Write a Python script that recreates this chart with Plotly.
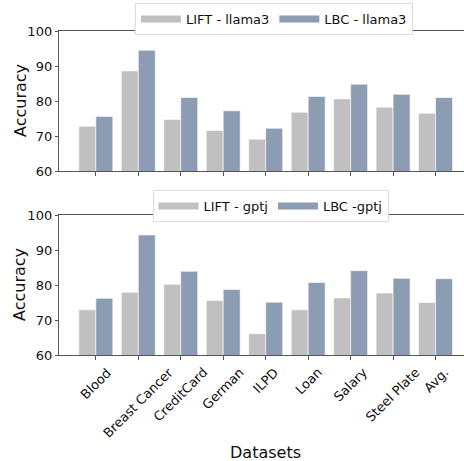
import plotly.graph_objects as go

datasets = ["Blood", "Breast Cancer", "CreditCard", "German", "ILPD", "Loan", "Salary", "Steel Plate", "Avg."]
lift_llama3 = [72.8, 88.6, 74.7, 71.6, 69.1, 76.8, 80.6, 78.2, 76.5]
lbc_llama3 = [75.6, 94.5, 81.0, 77.2, 72.2, 81.3, 84.8, 81.9, 81.0]
lift_gptj = [72.9, 77.9, 80.2, 75.6, 66.1, 72.9, 76.3, 77.7, 75.0]
lbc_gptj = [76.2, 94.3, 83.9, 78.7, 75.1, 80.7, 84.1, 81.9, 81.8]

W, H = 464, 461
GRAY = "#c0c0c0"
BLUE = "#8c9cb2"
SPINE = "#555555"
FONT = "DejaVu Sans"

fig = go.Figure()

def add_pair(lift, lbc, name_lift, name_lbc, xa, ya, leg):
    fig.add_trace(go.Bar(x=datasets, y=lift, marker=dict(color=GRAY, line=dict(color="white", width=0.6)),
                         xaxis=xa, yaxis=ya, showlegend=False, offsetgroup="a"))
    fig.add_trace(go.Bar(x=datasets, y=lbc, marker=dict(color=BLUE, line=dict(color="white", width=0.6)),
                         xaxis=xa, yaxis=ya, showlegend=False, offsetgroup="b"))
    # legend swatches (wide rectangles like matplotlib)
    fig.add_trace(go.Scatter(x=[None], y=[None], mode="lines", line=dict(color=GRAY, width=7),
                             name=name_lift, xaxis=xa, yaxis=ya, legend=leg))
    fig.add_trace(go.Scatter(x=[None], y=[None], mode="lines", line=dict(color=BLUE, width=7),
                             name=name_lbc, xaxis=xa, yaxis=ya, legend=leg))

add_pair(lift_llama3, lbc_llama3, "LIFT - llama3", "LBC - llama3", "x", "y", "legend")
add_pair(lift_gptj, lbc_gptj, "LIFT - gptj", "LBC -gptj", "x2", "y2", "legend2")

x0 = 59.3 / W
top_dom = [1 - 171 / H, 1 - 31 / H]
bot_dom = [1 - 355 / H, 1 - 215 / H]
xrange_ = [-0.86, 8.67]

xcommon = dict(range=xrange_, showline=True, linecolor=SPINE, linewidth=1, mirror=True,
               ticks="outside", ticklen=3.5, tickcolor=SPINE, showticklabels=False,
               showgrid=False, zeroline=False, domain=[x0, 1], fixedrange=True)
ycommon = dict(range=[60, 100], dtick=10, showline=True, linecolor=SPINE, linewidth=1,
               ticks="outside", ticklen=3.5, tickcolor=SPINE, showgrid=False, zeroline=False,
               tickfont=dict(family=FONT, size=13, color="#111111"), fixedrange=True)

fig.update_layout(
    width=W, height=H, margin=dict(l=0, r=0, t=0, b=0, autoexpand=False),
    plot_bgcolor="white", paper_bgcolor="white",
    barmode="group", bargap=0.2, bargroupgap=0,
    font=dict(family=FONT, size=13, color="#111111"),
    xaxis=dict(anchor="y", **xcommon),
    yaxis=dict(anchor="x", domain=top_dom, **ycommon),
    xaxis2=dict(anchor="y2", **xcommon),
    yaxis2=dict(anchor="x2", domain=bot_dom, **ycommon),
    legend=dict(orientation="h", x=274 / W, xanchor="center", y=1 - 3 / H, yanchor="top",
                bordercolor="#dddddd", borderwidth=1, bgcolor="white",
                font=dict(family=FONT, size=13, color="#111111"), itemwidth=40),
    legend2=dict(orientation="h", x=270.5 / W, xanchor="center", y=1 - 190 / H, yanchor="top",
                 bordercolor="#dddddd", borderwidth=1, bgcolor="white",
                 font=dict(family=FONT, size=13, color="#111111"), itemwidth=40),
)

# y-axis titles
for dom in (top_dom, bot_dom):
    fig.add_annotation(x=20 / W, y=(dom[0] + dom[1]) / 2, xref="paper", yref="paper", text="Accuracy",
                       textangle=-90, showarrow=False, xanchor="center", yanchor="middle",
                       font=dict(family=FONT, size=16, color="#111111"))

# rotated, centre-aligned category labels on the bottom axis (matplotlib style)
label_y = bot_dom[0] - 7 / H
for name in datasets:
    fig.add_annotation(x=name, y=label_y, xref="x2", yref="paper", text=name, textangle=-45,
                       showarrow=False, xanchor="center", yanchor="top",
                       font=dict(family=FONT, size=13, color="#111111"))

fig.add_annotation(x=265 / W, y=1 - 452 / H, xref="paper", yref="paper", text="Datasets",
                   showarrow=False, xanchor="center", yanchor="middle",
                   font=dict(family=FONT, size=16, color="#111111"))

fig.write_html("out.html", config={"displayModeBar": False},
               post_script="document.body.style.margin='0px';")
